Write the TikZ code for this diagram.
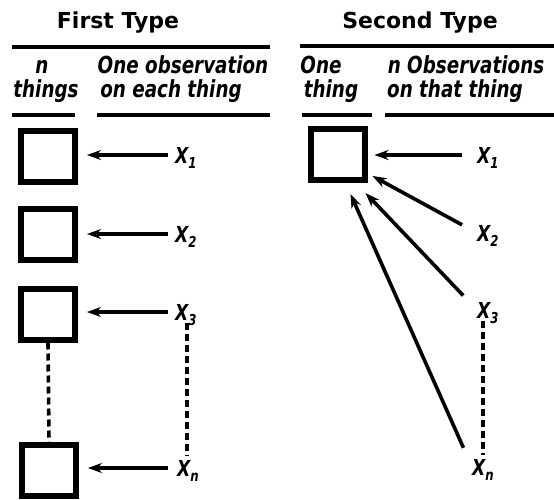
\documentclass[tikz,border=0pt]{standalone}
\usepackage{fontspec}
\setmainfont{DejaVu Sans}
\newfontfamily\hand{DejaVu Sans Bold Oblique}[FakeStretch=0.78]
\newfontfamily\head{DejaVu Sans Bold}[FakeStretch=1.0]
\usetikzlibrary{arrows.meta,calc}
\newcommand\Xs[1]{X\smash{\raisebox{-5pt}{\fontsize{15}{15}\selectfont #1}}}
\begin{document}
\begin{tikzpicture}[x=1pt,y=-1pt,
  thing/.style={draw,line width=6pt,minimum width=54pt,minimum height=51pt,inner sep=0pt},
  obs/.style={inner sep=0pt,anchor=west,font=\hand\fontsize{22}{22}\selectfont},
  arr/.style={line width=3.6pt,-{Stealth[length=14pt,width=10pt]}},
  dsh/.style={line width=3.6pt,dash pattern=on 7pt off 4pt},
  rulez/.style={line width=3.8pt},
  hd/.style={font=\head\fontsize{22}{22}\selectfont,anchor=base,inner sep=0pt},
  sub/.style={font=\hand\fontsize{23.5}{23.5}\selectfont,anchor=base,inner sep=0pt}]
\useasboundingbox (0,0) rectangle (554,500);
% headers
\node[hd] (h1) at (118,29) {First Type};
\node[hd] (h2) at (420,29) {Second Type};
\draw[rulez] (12,47) -- (270,47);
\draw[rulez] (300,46) -- (554,46);
\node[sub] (n1) at (42,74) {n};
\node[sub] (t1) at (46,98) {things};
\node[sub] (o1) at (183,74) {One observation};
\node[sub] (o2) at (171,98) {on each thing};
\node[sub] (r1) at (321,74) {One};
\node[sub] (r2) at (331,98) {thing};
\node[sub] (r3) at (466,74) {n Observations};
\node[sub] (r4) at (455,98) {on that thing};
\draw[rulez] (12,115) -- (75,115);
\draw[rulez] (97,115) -- (270,115);
\draw[rulez] (302,115) -- (372,115);
\draw[rulez] (385,115) -- (554,115);
% left boxes
\node[thing] (b1) at (48,156.5) {};
\node[thing] (b2) at (48,234) {};
\node[thing] (b3) at (48,314) {};
\node[thing] (b4) at (49,470) {};
% left labels
\node[obs] (x1) at (175,155) {\Xs{1}};
\node[obs] (x2) at (175,234) {\Xs{2}};
\node[obs] (x3) at (175,312) {\Xs{3}};
\node[obs] (xn) at (177,468) {\Xs{n}};
\draw[arr,shorten <=7pt,shorten >=9pt] (x1.west) -- (b1.east |- x1.west);
\draw[arr,shorten <=7pt,shorten >=9pt] (x2.west) -- (b2.east |- x2.west);
\draw[arr,shorten <=7pt,shorten >=9pt] (x3.west) -- (b3.east |- x3.west);
\draw[arr,shorten <=9pt,shorten >=9pt] (xn.west) -- (b4.east |- xn.west);
\draw[dsh] (b3.south) -- (b4.north);
\draw[dsh,shorten <=3pt,shorten >=4pt] ([xshift=12pt]x3.south west) -- ([xshift=12pt]x3.south west |- xn.north);
% right box
\node[thing] (rb) at (337.5,154.5) {};
\node[obs] (y1) at (477,155) {\Xs{1}};
\node[obs] (y2) at (477,233) {\Xs{2}};
\node[obs] (y3) at (477,310) {\Xs{3}};
\node[obs] (yn) at (472,467) {\Xs{n}};
\coordinate (t1) at ($(rb.east)+(7,0)$);
\coordinate (t2) at ($(rb.south east)+(5,-7)$);
\coordinate (t3) at ($(rb.south east)+(-2,10)$);
\coordinate (tn) at ($(rb.south east)+(-17,11)$);
\draw[arr,shorten <=15pt] (y1.west) -- (t1 |- y1.west);
\draw[arr,shorten <=17pt] (y2.west) -- (t2);
\draw[arr,shorten <=20pt] (y3.west) -- (t3);
\draw[arr,shorten <=21pt] (yn.west) -- (tn);
\draw[dsh,shorten <=3pt,shorten >=4pt] ([xshift=6pt]y3.south west) -- ([xshift=6pt]y3.south west |- yn.north);
\end{tikzpicture}
\end{document}
